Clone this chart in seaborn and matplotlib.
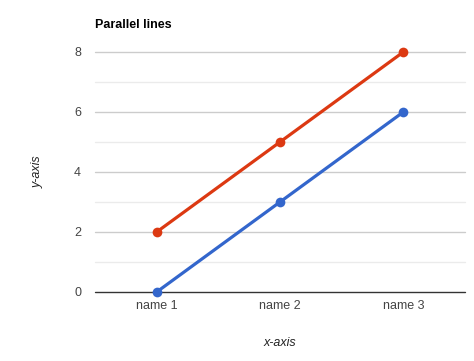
import matplotlib
matplotlib.use("Agg")
import matplotlib.pyplot as plt
import seaborn as sns
import pandas as pd
import numpy as np

categories = ["name 1", "name 2", "name 3"]
series_a = [0, 3, 6]
series_b = [2, 5, 8]
series_names = ["A", "B"]
colors = ["#3366cc", "#dc3912"]
title = "Parallel lines"
x_label = "x-axis"
y_label = "y-axis"

sns.set_theme(style="white")
plt.rcParams["font.family"] = ["Liberation Sans", "DejaVu Sans"]

df = pd.DataFrame({
    "x": list(range(len(categories))) * 2,
    "y": series_a + series_b,
    "s": [series_names[0]] * len(series_a) + [series_names[1]] * len(series_b),
})

fig = plt.figure(figsize=(4.74, 3.61), dpi=100)
ax = fig.add_axes([95 / 474, 1 - 292 / 361, 370 / 474, 240 / 361])

for v in range(1, 9):
    ax.axhline(v, color="#cccccc" if v % 2 == 0 else "#ebebeb", lw=1, zorder=0, clip_on=False)
ax.axhline(0, color="#333333", lw=1.0, zorder=2, clip_on=False)

sns.lineplot(data=df, x="x", y="y", hue="s", palette=colors, ax=ax,
             marker="o", markersize=7, markeredgewidth=0, linewidth=2.3,
             legend=False, zorder=3)
for ln in ax.get_lines():
    ln.set_clip_on(False)

ax.set_xlim(-0.5, len(categories) - 0.5)
ax.set_ylim(0, 8)
ax.set_xticks(range(len(categories)))
ax.set_xticklabels(categories)
ax.set_yticks([0, 2, 4, 6, 8])
ax.tick_params(axis="both", length=0, labelsize=9, colors="#444444")
ax.tick_params(axis="y", pad=10)
ax.tick_params(axis="x", pad=6)
for sp in ax.spines.values():
    sp.set_visible(False)
ax.set_xlabel(x_label, fontstyle="italic", fontsize=9, color="#222222", labelpad=18)
ax.set_ylabel(y_label, fontstyle="italic", fontsize=9, color="#222222", labelpad=22)
fig.text(95 / 474, 1 - 25 / 361, title, fontsize=9, fontweight="bold",
         color="#000000", va="center", ha="left")

fig.savefig("out.png", dpi=100, facecolor="white")
